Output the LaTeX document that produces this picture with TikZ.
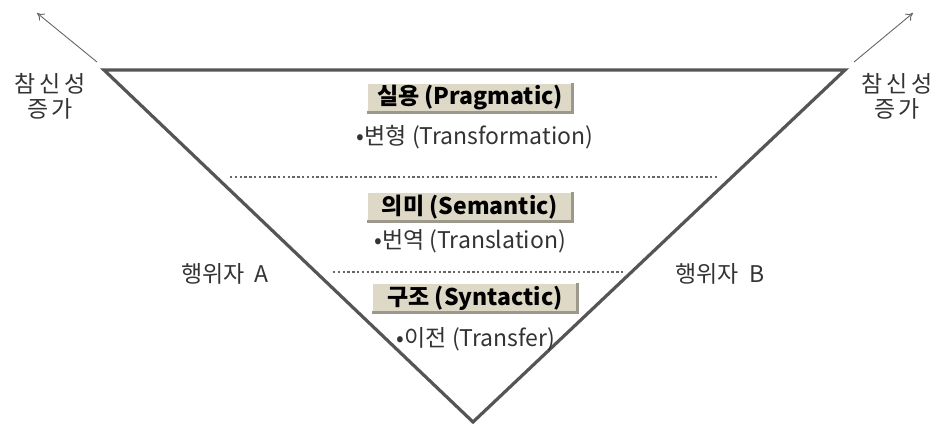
\documentclass[tikz,border=0pt]{standalone}
\usepackage{fontspec}
\setmainfont{Noto Sans CJK KR}
\newfontfamily\spacedkr[LetterSpace=15]{Noto Sans CJK KR}
\usetikzlibrary{arrows.meta}
\definecolor{tri}{HTML}{555555}
\definecolor{boxfill}{HTML}{DDD9C6}
\definecolor{boxdark}{HTML}{9C998C}
\definecolor{dotc}{HTML}{666666}
\definecolor{txt}{HTML}{333333}
\begin{document}
\begin{tikzpicture}[x=1pt,y=-1pt,
  triline/.style={draw=tri,line width=3.2pt,line join=miter},
  arr/.style={draw=dotc,line width=0.9pt,-{To[length=7pt,width=9pt]}},
  dotline/.style={draw=dotc,line width=2.4pt,dash pattern=on 2.4pt off 2.4pt},
  levelbox/.style={fill=boxfill,minimum width=207pt,minimum height=31pt,inner sep=0pt,
     font=\fontsize{23}{26}\selectfont\bfseries,text=black},
  bul/.style={font=\fontsize{23}{26}\selectfont,text=txt},
  side/.style={font=\fontsize{23}{26}\selectfont,text=txt,align=center}]
\useasboundingbox (0,0) rectangle (939,429);
\coordinate (TL) at (104,70);
\coordinate (TR) at (845,70);
\coordinate (B) at (473,422);
\draw[triline] (TL) -- (TR) -- (B) -- cycle;
% arrows
\coordinate (aLs) at (97,62); \coordinate (aLe) at (37,13);
\coordinate (aRs) at (854,62); \coordinate (aRe) at (913,13);
\draw[arr] (aLs) -- (aLe);
\draw[arr] (aRs) -- (aRe);
\node[side,font=\fontsize{23}{27}\selectfont\spacedkr] (lL) at (50,96) {참신성\\[-2pt]증가};
\node[side,font=\fontsize{23}{27}\selectfont\spacedkr] (lR) at (897,96) {참신성\\[-2pt]증가};
% dotted
\coordinate (d1a) at (230,177); \coordinate (d1b) at (718,177);
\coordinate (d2a) at (333,272); \coordinate (d2b) at (625,272);
\draw[dotline] (d1a) -- (d1b);
\draw[dotline] (d2a) -- (d2b);
% boxes
\node[levelbox] (p) at (470,98) {실용 (Pragmatic)};
\node[levelbox] (s) at (470,207) {의미 (Semantic)};
\node[levelbox] (y) at (475,298) {구조 (Syntactic)};
\foreach \n in {p,s,y}{
  \draw[white,line width=1.5pt] ([shift={(0.75,-0.75)}]\n.south west) -- ([shift={(0.75,0.75)}]\n.north west) -- ([shift={(-0.75,0.75)}]\n.north east);
  \draw[boxdark,line width=2.5pt] ([shift={(-1.25,0.75)}]\n.north east) -- ([shift={(-1.25,-1.25)}]\n.south east) -- ([shift={(0.75,-1.25)}]\n.south west);
}
\node[bul] (bp) at (475,137) {•변형 (Transformation)};
\node[bul] (bs) at (470,241) {•번역 (Translation)};
\node[bul] (by) at (476,339) {•이전 (Transfer)};
\node[side] (aA) at (225,274) {행위자\ \ A};
\node[side] (aB) at (720,274) {행위자\ \ B};
\end{tikzpicture}
\end{document}
